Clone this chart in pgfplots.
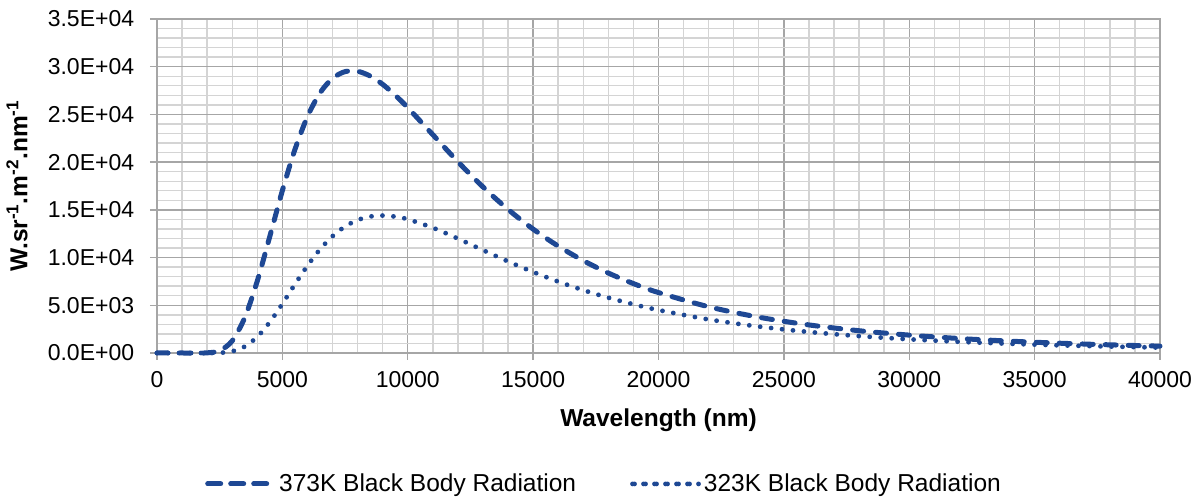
\documentclass[border=0pt]{standalone}
\usepackage{pgfplots}
\pgfplotsset{compat=1.18}
\usepackage{fontspec}
\setmainfont{Liberation Sans}
\definecolor{serblue}{RGB}{30,72,148}
\definecolor{majgrid}{RGB}{166,166,166}
\definecolor{mingrid}{RGB}{212,212,212}
\pgfplotstableread{
x y
0 0
500 0
1000 0
1500 0
2000 16
2500 243
3000 1277
3500 3710
4000 7544
4500 12227
5000 17019
5500 21316
6000 24771
6500 27248
7000 28779
7500 29485
8000 29521
8500 29027
9000 28152
9500 27014
10000 25711
11000 22877
12000 20039
13000 17401
14000 15045
15000 12982
16000 11202
17000 9679
18000 8378
19000 7273
20000 6332
22000 4843
24000 3751
26000 2942
28000 2334
30000 1873
32000 1518
34000 1243
36000 1026
38000 855
40000 717
}\hot
\pgfplotstableread{
x y
0 0
500 0
1000 0
1500 0
2000 0
2500 22
3000 175
3500 674
4000 1696
4500 3243
5000 5154
5500 7194
6000 9147
6500 10857
7000 12238
7500 13257
8000 13933
8500 14299
9000 14402
9500 14291
10000 14016
11000 13123
12000 11989
13000 10778
14000 9594
15000 8487
16000 7483
17000 6587
18000 5796
19000 5104
20000 4500
22000 3516
24000 2771
26000 2205
28000 1771
30000 1436
32000 1175
34000 969
36000 805
38000 675
40000 569
}\warm
\begin{document}
\fontsize{23pt}{27pt}\selectfont
\begin{tikzpicture}
\path[use as bounding box] (-157pt,-144pt) rectangle (1045pt,353pt);
\begin{axis}[
  at={(0,0)}, anchor=south west,
  scale only axis, width=1003pt, height=334pt,
  xmin=0, xmax=40000, ymin=0, ymax=35000,
  xtick={0,5000,...,40000},
  xticklabels={0,5000,10000,15000,20000,25000,30000,35000,40000},
  ytick={0,5000,...,35000},
  yticklabels={0.0E+00,5.0E+03,1.0E+04,1.5E+04,2.0E+04,2.5E+04,3.0E+04,3.5E+04},
  minor x tick num=4, minor y tick num=4,
  grid=both,
  major grid style={majgrid, line width=1.4pt},
  minor grid style={mingrid, line width=1.4pt},
  axis line style={majgrid, line width=1.4pt},
  tick style={majgrid, line width=1.4pt},
  major tick length=7pt, minor tick length=0pt,
  tick align=outside,
  xtick pos=bottom, ytick pos=left,
  every x tick label/.append style={yshift=-4pt},
  yticklabel style={xshift=-8pt},
  scaled x ticks=false, scaled y ticks=false,
  xlabel={\fontsize{24.5pt}{28pt}\selectfont\textbf{Wavelength (nm)}},
  xlabel style={at={(axis description cs:0.5,0)}, anchor=center, yshift=-67pt},
  ylabel={\fontsize{24.5pt}{28pt}\selectfont\textbf{W.sr\textsuperscript{-1}.m\textsuperscript{-2}.nm\textsuperscript{-1}}},
  ylabel style={at={(axis description cs:-0.1396,0.5)}, anchor=center, rotate=0},
  legend columns=2,
  legend style={draw=none, fill=none, at={(axis description cs:0.4457,-0.392)}, anchor=center,
    font=\fontsize{24.5pt}{28pt}\selectfont,
    /tikz/every even column/.append style={column sep=52pt}},
  legend image code/.code={\draw[#1] (0pt,0pt) -- (58pt,0pt); \path (-2pt,0pt) -- (65pt,0pt);},
  clip=false,
]
\addplot[serblue, line width=5pt, line cap=round, dash pattern=on 11pt off 12pt, smooth, tension=0.5] table[x=x,y=y] {\hot};
\addlegendentry{373K Black Body Radiation}
\addplot[serblue, line width=4.8pt, line cap=round, dash pattern=on 0pt off 11pt, smooth, tension=0.5] table[x=x,y=y] {\warm};
\addlegendentry{323K Black Body Radiation}
\end{axis}
\end{tikzpicture}
\end{document}
